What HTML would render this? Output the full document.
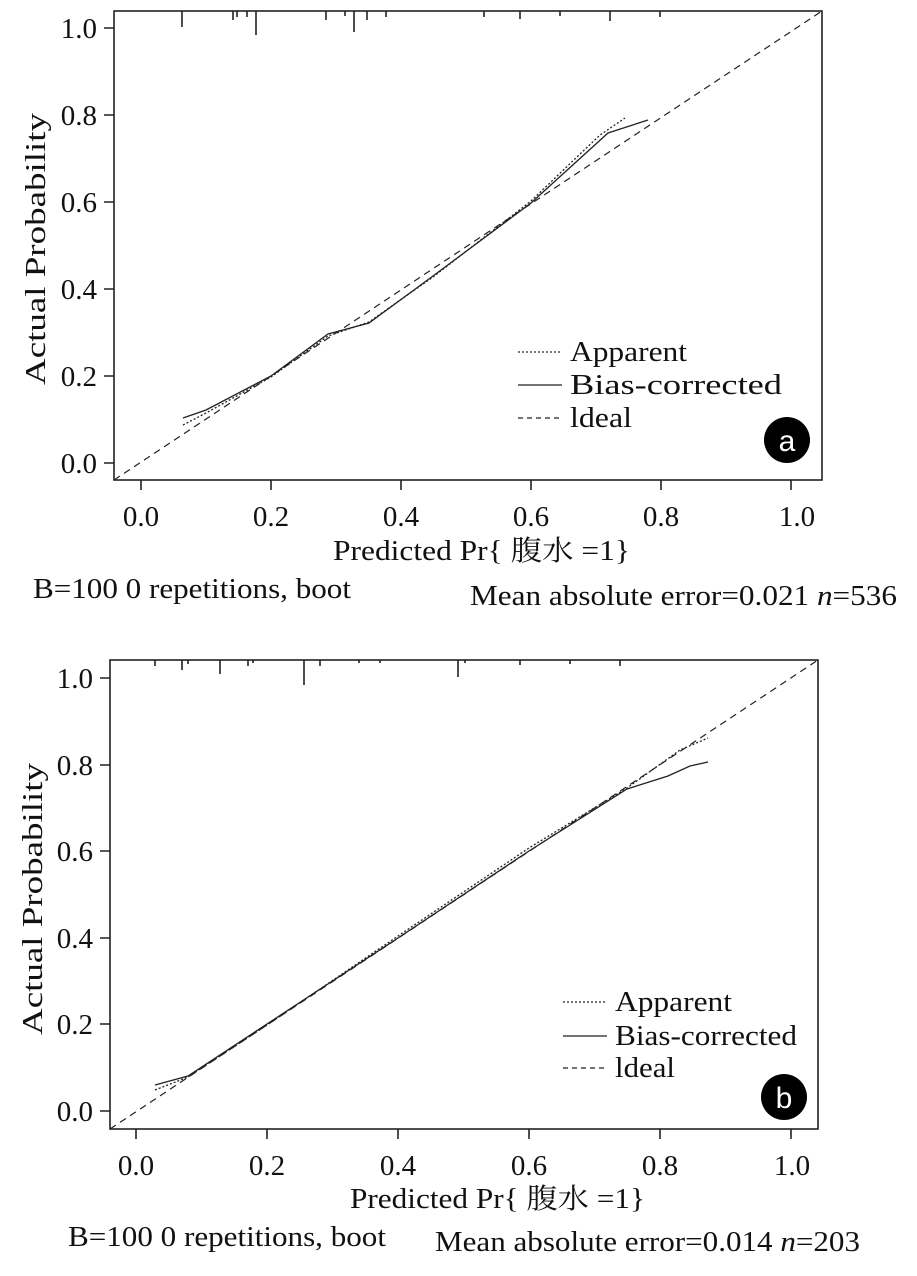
<!DOCTYPE html>
<html><head><meta charset="utf-8"><style>
body{margin:0;background:#fff}
svg text{font-family:"Liberation Serif","Noto Serif CJK SC",serif;fill:#111}
</style></head><body>
<svg width="917" height="1271" viewBox="0 0 917 1271" xmlns="http://www.w3.org/2000/svg">
<g stroke="#222" fill="none" stroke-width="1.6">
<!-- Panel a -->
<rect x="114" y="11" width="708" height="469"/>
<path d="M141 480v10M271 480v10M401 480v10M531 480v10M661 480v10M791 480v10"/>
<path d="M114 463h-10M114 376h-10M114 289h-10M114 202h-10M114 115h-10M114 28h-10"/>
<path d="M182 11v16M233 11v9M237 11v6M247 11v6M256 11v24M326 11v9M345 11v5M354 11v21M367 11v9M386 11v6M484 11v6M520 11v8M560 11v5M610 11v10M660 11v6"/>
<path d="M114 480L822 11" stroke-dasharray="7,5" stroke-width="1.2"/>
<path d="M183 418L206 410L271 376L328 334L369 323L433 276L531 203L608 133L648 120" stroke-width="1.3"/>
<path d="M183 425L206 413L271 377L328 336L369 322L433 277L531 201L600 135L625 118" stroke-dasharray="2,2" stroke-width="1.3"/>
<path d="M518 352h44" stroke-dasharray="2,2" stroke-width="1.3"/>
<path d="M518 385h44" stroke-width="1.3"/>
<path d="M518 418h44" stroke-dasharray="5,4" stroke-width="1.3"/>
<!-- Panel b -->
<rect x="110" y="660" width="708" height="469"/>
<path d="M136 1129v10M267 1129v10M398 1129v10M529 1129v10M660 1129v10M791 1129v10"/>
<path d="M110 1111h-10M110 1024h-10M110 938h-10M110 851h-10M110 765h-10M110 678h-10"/>
<path d="M155 660v6M182 660v10M188 660v4M220 660v14M248 660v6M253 660v3M304 660v25M320 660v6M359 660v3M380 660v3M458 660v17M465 660v3M520 660v5M570 660v4M620 660v6"/>
<path d="M110 1129L818 660" stroke-dasharray="7,5" stroke-width="1.2"/>
<path d="M155 1085L188 1076L267 1024L398 938L529 851L627 789L668 776L690 766L708 762" stroke-width="1.3"/>
<path d="M155 1090L188 1077L267 1025L398 936L529 848L627 788L680 750L708 738" stroke-dasharray="2,2" stroke-width="1.3"/>
<path d="M563 1002h44" stroke-dasharray="2,2" stroke-width="1.3"/>
<path d="M563 1036h44" stroke-width="1.3"/>
<path d="M563 1068h44" stroke-dasharray="5,4" stroke-width="1.3"/>
</g>
<g font-size="29">
<text x="141" y="526" text-anchor="middle">0.0</text><text x="271" y="526" text-anchor="middle">0.2</text><text x="401" y="526" text-anchor="middle">0.4</text><text x="531" y="526" text-anchor="middle">0.6</text><text x="661" y="526" text-anchor="middle">0.8</text><text x="797" y="526" text-anchor="middle">1.0</text>
<text x="97" y="473" text-anchor="end">0.0</text><text x="97" y="386" text-anchor="end">0.2</text><text x="97" y="299" text-anchor="end">0.4</text><text x="97" y="212" text-anchor="end">0.6</text><text x="97" y="125" text-anchor="end">0.8</text><text x="97" y="38" text-anchor="end">1.0</text>
<text x="136" y="1175" text-anchor="middle">0.0</text><text x="267" y="1175" text-anchor="middle">0.2</text><text x="398" y="1175" text-anchor="middle">0.4</text><text x="529" y="1175" text-anchor="middle">0.6</text><text x="660" y="1175" text-anchor="middle">0.8</text><text x="792" y="1175" text-anchor="middle">1.0</text>
<text x="93" y="1121" text-anchor="end">0.0</text><text x="93" y="1034" text-anchor="end">0.2</text><text x="93" y="948" text-anchor="end">0.4</text><text x="93" y="861" text-anchor="end">0.6</text><text x="93" y="775" text-anchor="end">0.8</text><text x="93" y="688" text-anchor="end">1.0</text>
</g>
<g font-size="28">
<text x="0" y="0" transform="translate(45 385) rotate(-90)" textLength="272" lengthAdjust="spacingAndGlyphs">Actual Probability</text>
<text x="333" y="560" textLength="297" lengthAdjust="spacingAndGlyphs">Predicted Pr{ 腹水 =1}</text>
<text x="33" y="598" textLength="318" lengthAdjust="spacingAndGlyphs">B=100 0 repetitions, boot</text>
<text x="470" y="605" textLength="427" lengthAdjust="spacingAndGlyphs">Mean absolute error=0.021 <tspan font-style="italic">n</tspan>=536</text>
<text x="570" y="361" textLength="117" lengthAdjust="spacingAndGlyphs">Apparent</text><text x="570" y="394" textLength="212" lengthAdjust="spacingAndGlyphs">Bias-corrected</text><text x="570" y="427" textLength="62" lengthAdjust="spacingAndGlyphs">ldeal</text>
<text x="0" y="0" transform="translate(42 1035) rotate(-90)" textLength="272" lengthAdjust="spacingAndGlyphs">Actual Probability</text>
<text x="350" y="1208" textLength="295" lengthAdjust="spacingAndGlyphs">Predicted Pr{ 腹水 =1}</text>
<text x="68" y="1246" textLength="318" lengthAdjust="spacingAndGlyphs">B=100 0 repetitions, boot</text>
<text x="435" y="1251" textLength="425" lengthAdjust="spacingAndGlyphs">Mean absolute error=0.014 <tspan font-style="italic">n</tspan>=203</text>
<text x="615" y="1011" textLength="117" lengthAdjust="spacingAndGlyphs">Apparent</text><text x="615" y="1045" textLength="182" lengthAdjust="spacingAndGlyphs">Bias-corrected</text><text x="615" y="1077" textLength="60" lengthAdjust="spacingAndGlyphs">ldeal</text>
</g>
<circle cx="787" cy="440" r="23" fill="#000"/>
<text x="787" y="451" text-anchor="middle" font-size="30" style="fill:#fff;font-family:'Liberation Sans',sans-serif">a</text>
<circle cx="784" cy="1097" r="23" fill="#000"/>
<text x="784" y="1108" text-anchor="middle" font-size="30" style="fill:#fff;font-family:'Liberation Sans',sans-serif">b</text>
</svg>
</body></html>
